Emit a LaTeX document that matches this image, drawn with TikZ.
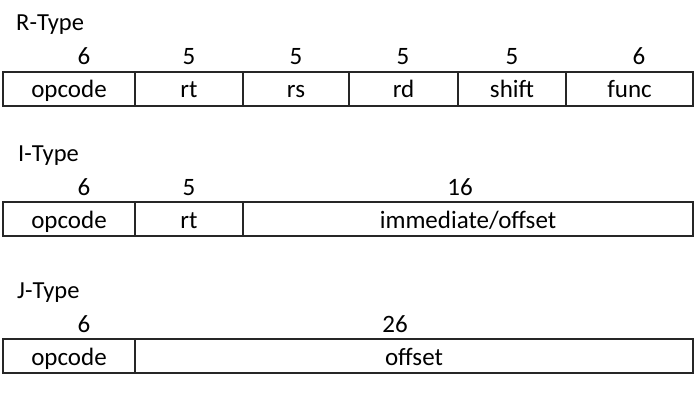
\documentclass[tikz,border=0pt]{standalone}
\usepackage{fontspec}
\setmainfont{Carlito}
\begin{document}
\begin{tikzpicture}[x=1pt,y=-1pt,
  cell/.style={draw=black!85,line width=1.6pt,minimum height=34pt,inner sep=0pt,outer sep=0pt,
    text height=23pt,text depth=5pt,anchor=north west,font=\fontsize{25}{29}\selectfont},
  num/.style={inner sep=0pt,anchor=base,font=\fontsize{25}{29}\selectfont},
  lbl/.style={inner sep=0pt,anchor=base west,font=\fontsize{24.5}{28}\selectfont}]
\useasboundingbox (0,0) rectangle (698,414);
% R-Type
\node[lbl] (rlab) at (16,30.5) {R-Type};
\node[cell,minimum width=132pt] (r1) at (3,72) {opcode};
\node[cell,minimum width=108pt] (r2) at (r1.north east) {rt};
\node[cell,minimum width=106pt] (r3) at (r2.north east) {rs};
\node[cell,minimum width=109pt] (r4) at (r3.north east) {rd};
\node[cell,minimum width=108pt] (r5) at (r4.north east) {shift};
\node[cell,minimum width=127pt] (r6) at (r5.north east) {func};
\node[num] (rn1) at (84,65) {6};
\node[num] (rn2) at (189,65) {5};
\node[num] (rn3) at (296,65) {5};
\node[num] (rn4) at (403,65) {5};
\node[num] (rn5) at (512,65) {5};
\node[num] (rn6) at (639,65) {6};
% I-Type
\node[lbl] (ilab) at (18,162) {I-Type};
\node[cell,minimum width=132pt] (i1) at (3,202) {opcode};
\node[cell,minimum width=108pt] (i2) at (i1.north east) {rt};
\node[cell,minimum width=450pt] (i3) at (i2.north east) {immediate/offset};
\node[num] (in1) at (84,196) {6};
\node[num] (in2) at (189,196) {5};
\node[num] (in3) at (460,196) {16};
% J-Type
\node[lbl] (jlab) at (17,298) {J-Type};
\node[cell,minimum width=132pt] (j1) at (3,339) {opcode};
\node[cell,minimum width=558pt] (j2) at (j1.north east) {offset};
\node[num] (jn1) at (84,332) {6};
\node[num] (jn2) at (395,332) {26};
\end{tikzpicture}
\end{document}
